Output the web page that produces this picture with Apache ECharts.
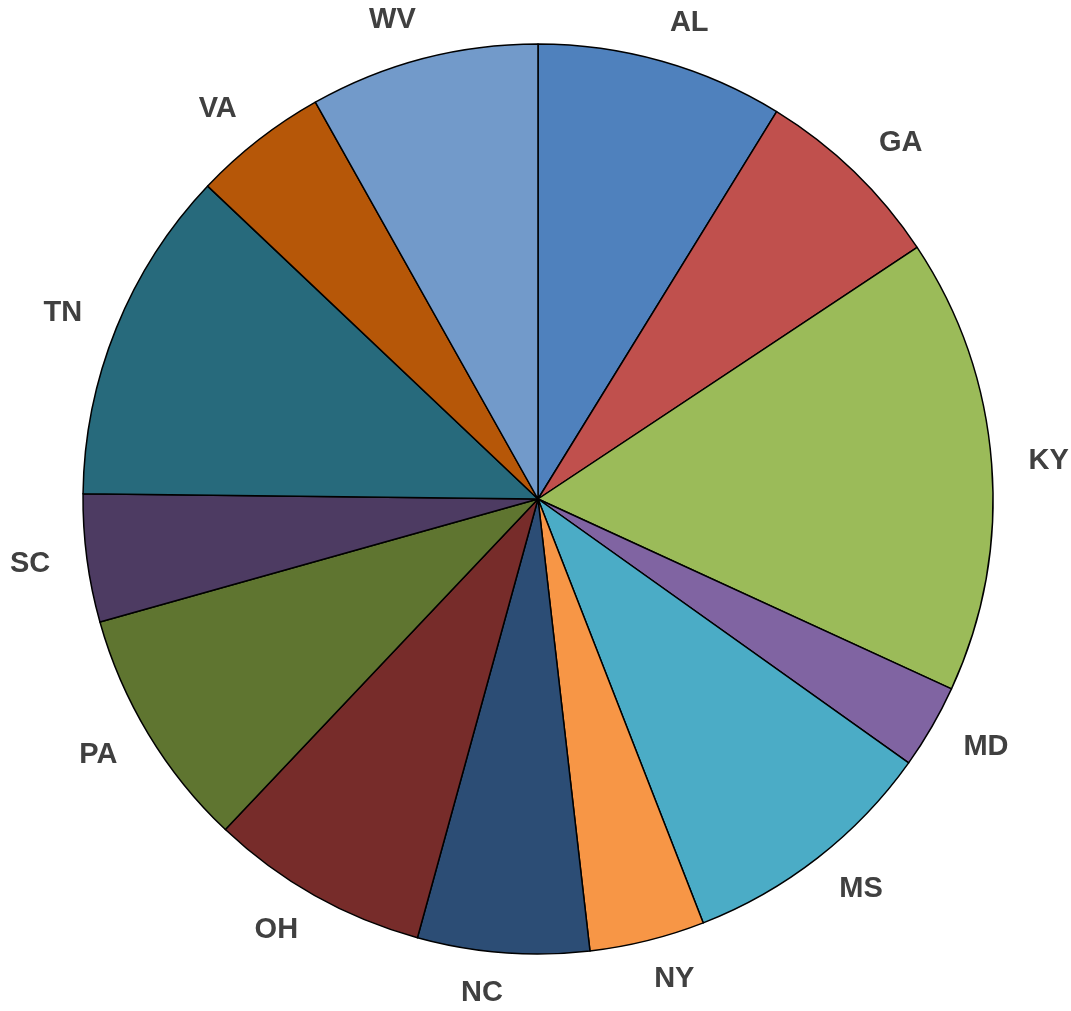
<!DOCTYPE html>
<html>
<head>
<meta charset="utf-8">
<script src="https://cdn.jsdelivr.net/npm/echarts@6/dist/echarts.min.js"></script>
<style>
  html, body { margin: 0; padding: 0; background: #fff; }
  #main { width: 1071px; height: 1011px; }
</style>
</head>
<body>
<div id="main"></div>
<script>
// states in clockwise order from 12 o'clock
let states = ['AL', 'GA', 'KY', 'MD', 'MS', 'NY', 'NC', 'OH', 'PA', 'SC', 'TN', 'VA', 'WV'];
let shares = [8.8, 6.9, 16.2, 3.0, 9.25, 4.1, 6.1, 7.8, 8.6, 4.55, 11.9, 4.8, 8.15];
let colors = ['#4f81bd', '#c0504d', '#9bbb59', '#8064a2', '#4bacc6', '#f79646', '#2c4d75',
              '#772c2a', '#5f7530', '#4d3b62', '#276a7c', '#b65708', '#729aca'];

let chartDom = document.getElementById('main');
let myChart = echarts.init(chartDom);

let pieData = states.map((s, i) => ({
  name: s,
  value: shares[i],
  itemStyle: { color: colors[i] }
}));

let option = {
  backgroundColor: '#ffffff',
  animation: false,
  series: [
    {
      type: 'pie',
      center: [538, 499],
      radius: [0, 455],
      startAngle: 90,
      clockwise: true,
      avoidLabelOverlap: false,
      itemStyle: {
        borderColor: '#000000',
        borderWidth: 1.5
      },
      label: {
        show: true,
        position: 'outside',
        formatter: '{b}',
        color: '#404040',
        fontFamily: 'Liberation Sans, Arial, sans-serif',
        fontWeight: 'bold',
        fontSize: 29,
        distanceToLabelLine: -3
      },
      labelLine: {
        show: false,
        length: 40,
        length2: 0
      },
      data: pieData
    }
  ]
};

option && myChart.setOption(option);
</script>
</body>
</html>
